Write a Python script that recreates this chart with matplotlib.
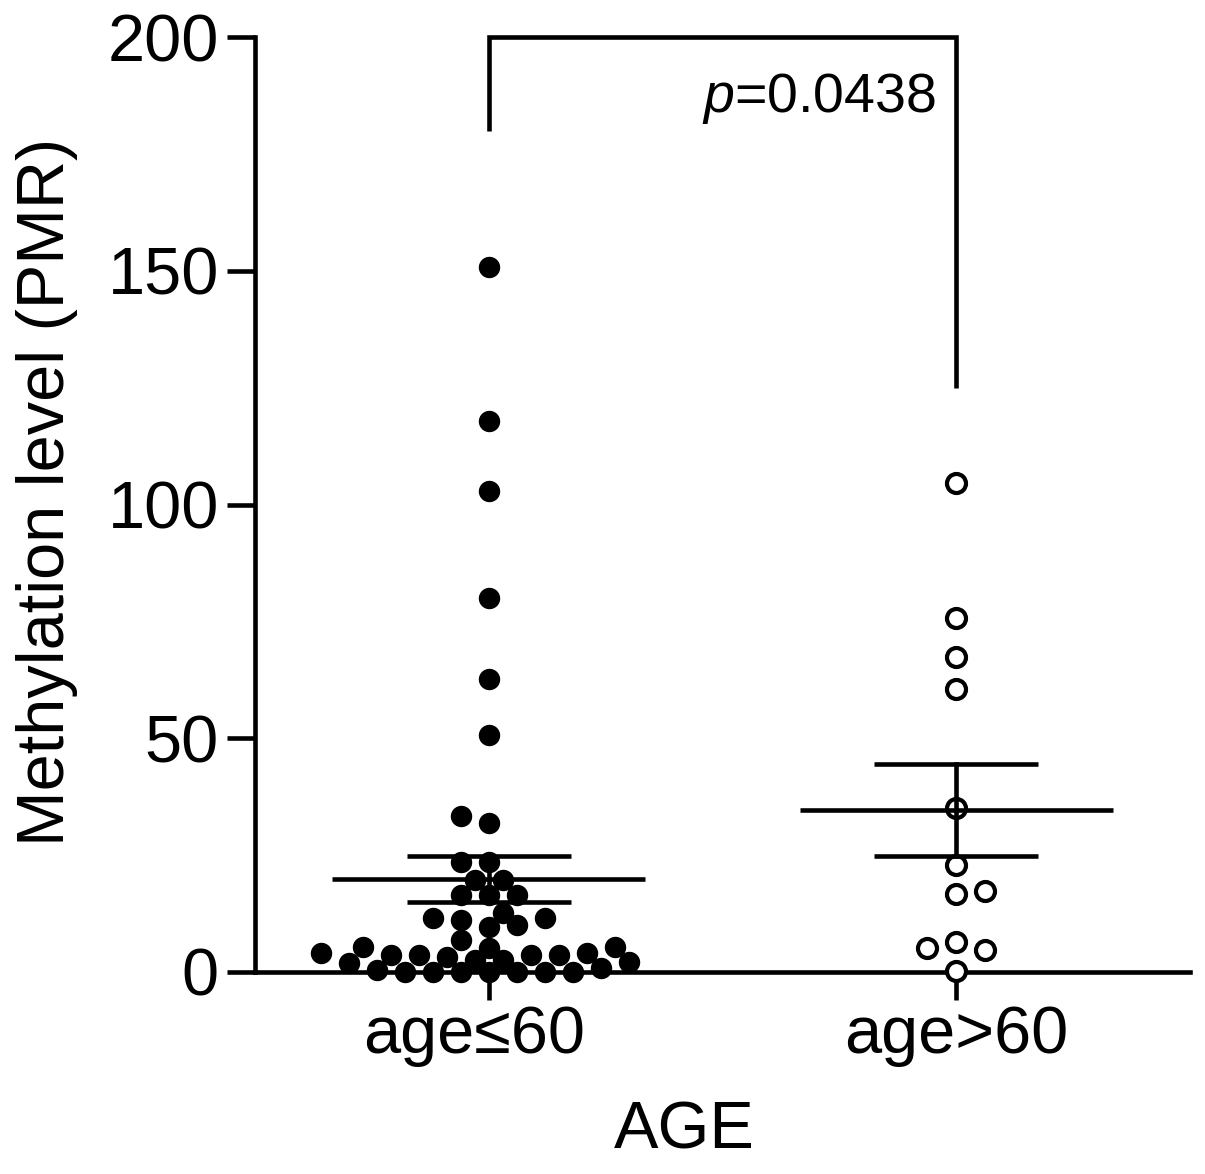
import numpy as np
import matplotlib
matplotlib.use('Agg')
import matplotlib.pyplot as plt
import matplotlib.transforms as mtransforms
from matplotlib import font_manager as fm

# ---------------- data ----------------
categories = ['age≤60', 'age>60']
g1_values = [150.7, 117.8, 102.8, 80.1, 62.7, 50.7, 33.4, 31.8,
             23.6, 23.6, 19.7, 19.7, 16.5, 16.5, 16.5,
             12.6, 11.5, 11.1, 9.7, 10.1, 11.5,
             5.1, 2.2, 0.8, 3.6, 0.1, 3.6, 0.0, 3.6, 0.0, 2.6,
             6.9, 5.4, 5.4, 0.0,
             2.6, 0.0, 3.3, 0.0, 3.6, 0.0, 4.0, 0.4, 4.0, 1.9]
g2_values = [104.6, 75.7, 67.3, 60.5, 35.1, 22.8, 16.6, 17.3,
             5.2, 6.4, 4.8, 0.3]
y_ticks = [0, 50, 100, 150, 200]
y_label = 'Methylation level (PMR)'
x_label = 'AGE'
p_value = '0.0438'
bracket_y = [180, 200, 200, 125]

# ---------------- style ----------------
names = {f.name for f in fm.fontManager.ttflist}
base = 'Liberation Sans' if 'Liberation Sans' in names else 'DejaVu Sans'
narrow = 'Liberation Sans Narrow' if 'Liberation Sans Narrow' in names else base
plt.rcParams['font.family'] = [base, 'DejaVu Sans']
plt.rcParams['mathtext.fontset'] = 'custom'
plt.rcParams['mathtext.it'] = narrow + ':italic'
plt.rcParams['mathtext.rm'] = narrow

W, H, DPI = 12.05, 11.74, 100
fig = plt.figure(figsize=(W, H), dpi=DPI)
L, B = 255 / 1205, 202 / 1174
AW, AH = 935 / 1205, 935 / 1174
ax = fig.add_axes([L, B, AW, AH])
ax.set_xlim(-0.5, 1.5)
ax.set_ylim(0, 200)

px_x = AW * W * DPI / 2.0
px_y = AH * H * DPI / 200.0
LW = 3.3


def swarm(vals, step_px, dmin_px, first=-1):
    vals = np.asarray(vals, float)
    order = np.argsort(vals, kind='stable')
    placed = []
    xs = np.zeros(len(vals))
    cands = [0]
    for k in range(1, 80):
        cands += [first * k, -first * k]
    for i in order:
        y = vals[i] * px_y
        for k in cands:
            x = k * step_px
            if all((x - a) ** 2 + (y - b) ** 2 >= dmin_px ** 2 for a, b in placed):
                break
        placed.append((x, y))
        xs[i] = x
    return xs / px_x


groups = [np.array(g1_values), np.array(g2_values)]
x1 = 0 + swarm(g1_values, 14, 18, first=-1)
x2 = 1 + swarm(g2_values, 29, 24, first=1)

ax.plot(x1, groups[0], 'o', ms=14.4, color='black', mec='black',
        clip_on=False, zorder=4)
ax.plot(x2, groups[1], 'o', ms=13.7, mfc='white', mec='black', mew=3,
        clip_on=False, zorder=4)

for i, g in enumerate(groups):
    m = g.mean()
    sem = g.std(ddof=1) / np.sqrt(len(g))
    ax.plot([i - 0.335, i + 0.335], [m, m], color='black', lw=LW, zorder=5,
            solid_capstyle='butt')
    for v in (m - sem, m + sem):
        ax.plot([i - 0.175, i + 0.175], [v, v], color='black', lw=LW,
                zorder=5, solid_capstyle='butt')
    ax.plot([i, i], [m - sem, m + sem], color='black', lw=LW, zorder=5)

# significance bracket
ax.plot([0, 0, 1, 1], bracket_y, color='black', lw=LW, clip_on=False,
        solid_joinstyle='miter', solid_capstyle='butt')
ptxt_size = 45 if narrow != base else 40
ax.text(1 - 20 / px_x, 184, r'$\mathit{p}$=' + p_value, ha='right',
        va='baseline', fontsize=ptxt_size, family=narrow)

# axes styling
for s in ('top', 'right'):
    ax.spines[s].set_visible(False)
for s in ('left', 'bottom'):
    ax.spines[s].set_linewidth(LW)
ax.set_yticks(y_ticks)
ax.set_xticks([0, 1])
ax.set_xticklabels(categories)
ax.tick_params(axis='both', length=20, width=LW, labelsize=48)
ax.tick_params(axis='y', pad=6)
ax.tick_params(axis='x', pad=4)
lbl0 = ax.get_xticklabels()[0]
lbl0.set_transform(lbl0.get_transform() +
                   mtransforms.ScaledTranslation(-15 / 100, 0, fig.dpi_scale_trans))

ax.set_ylabel(y_label, fontsize=48)
ax.yaxis.set_label_coords(-0.189, 0.513)
ax.set_xlabel(x_label, fontsize=48)
ax.xaxis.set_label_coords(0.459, -0.137)

fig.savefig('out.png', dpi=DPI)
